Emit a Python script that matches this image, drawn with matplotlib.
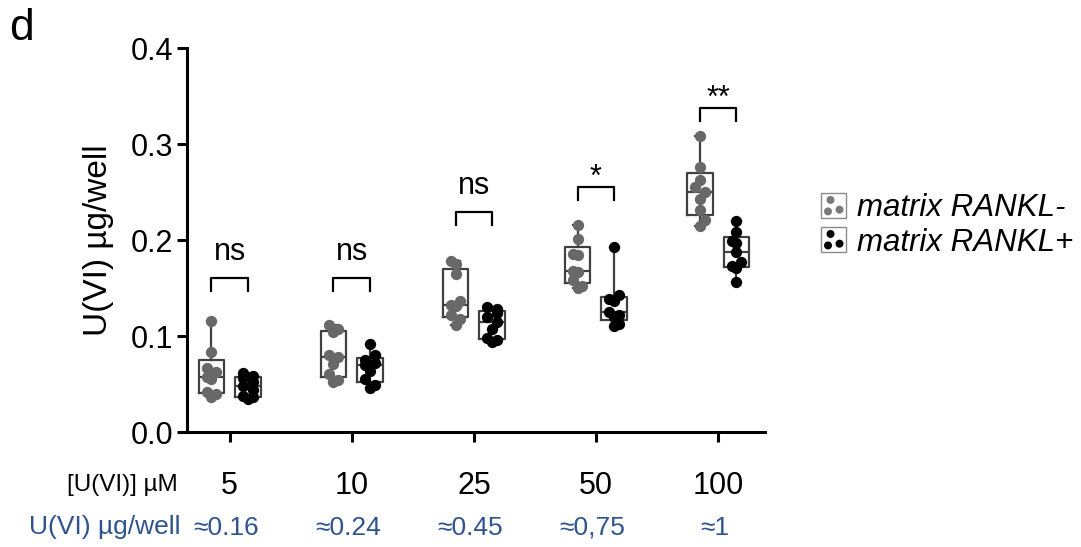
import matplotlib
matplotlib.use("Agg")
import matplotlib.pyplot as plt
import matplotlib.transforms as mtransforms
import numpy as np
from matplotlib.legend_handler import HandlerBase
from matplotlib.patches import Circle, Rectangle

plt.rcParams["font.family"] = ["Liberation Sans", "DejaVu Sans"]

# ------------------------------------------------------------------ data
conc_labels = ["5", "10", "25", "50", "100"]
ug_labels = ["≈0.16", "≈0.24", "≈0.45", "≈0,75", "≈1"]

rankl_neg = [
    [0.037, 0.040, 0.042, 0.055, 0.057, 0.063, 0.067, 0.083, 0.116],
    [0.052, 0.054, 0.060, 0.071, 0.078, 0.080, 0.104, 0.107, 0.111],
    [0.111, 0.118, 0.122, 0.131, 0.132, 0.136, 0.165, 0.175, 0.178],
    [0.150, 0.152, 0.158, 0.167, 0.168, 0.184, 0.185, 0.201, 0.216],
    [0.215, 0.221, 0.231, 0.243, 0.250, 0.255, 0.263, 0.276, 0.308],
]
rankl_pos = [
    [0.034, 0.036, 0.038, 0.044, 0.048, 0.052, 0.056, 0.058, 0.062],
    [0.046, 0.049, 0.055, 0.064, 0.070, 0.072, 0.075, 0.080, 0.092],
    [0.094, 0.096, 0.098, 0.107, 0.115, 0.120, 0.124, 0.128, 0.130],
    [0.110, 0.113, 0.120, 0.122, 0.125, 0.137, 0.139, 0.143, 0.193],
    [0.156, 0.171, 0.173, 0.177, 0.188, 0.197, 0.199, 0.208, 0.220],
]
sig_labels = ["ns", "ns", "ns", "*", "**"]
bracket_y = [0.160, 0.160, 0.229, 0.255, 0.3375]

GREY = "#686868"
BLACK = "#000000"
BOX = "#404040"
BLUE = "#2f5490"
OFFSET = 0.15
BOX_W = 0.21


def prism_stats(values):
    # Prism style quartiles (n+1 basis), whiskers min to max
    v = np.asarray(values)
    q1, med, q3 = np.percentile(v, [25, 50, 75], method="weibull")
    return {"med": med, "q1": q1, "q3": q3, "whislo": v.min(), "whishi": v.max(), "fliers": []}


def swarm(values, px_x=122.0, px_y=960.0, diam=8.0):
    # tiny beeswarm: place each dot at the first free slot near the centre,
    # dots may overlap a bit like in Prism
    order = np.argsort(values)
    placed = []
    offsets = np.zeros(len(values))
    step = diam * 0.6
    for k, i in enumerate(order):
        y = values[i] * px_y
        best = step if k % 2 else -step
        for s in [0, 1, -1]:
            x = s * step
            if all((x - px) ** 2 + (y - py) ** 2 >= diam ** 2 for px, py in placed):
                best = x
                break
        placed.append((best, y))
        offsets[i] = best / px_x
    return offsets


fig = plt.figure(figsize=(10.81, 5.47), dpi=100)
ax = fig.add_axes([0.173, 0.2102, 0.5347, 0.702])

pos = np.arange(len(conc_labels))
for series, shift, color in [(rankl_neg, -OFFSET, GREY), (rankl_pos, OFFSET, BLACK)]:
    stats = [prism_stats(v) for v in series]
    ax.bxp(stats, positions=pos + shift, widths=BOX_W, showfliers=False,
           capwidths=0.07,
           boxprops=dict(color=BOX, lw=1.6),
           whiskerprops=dict(color=BOX, lw=1.6),
           capprops=dict(color=BOX, lw=1.6),
           medianprops=dict(color=BOX, lw=1.6))
    for p, v in zip(pos, series):
        v = np.asarray(v)
        ax.scatter(p + shift + swarm(v), v, s=66, color=color, zorder=3, linewidths=0)

# significance brackets
leg = 0.0135
for p, lab, yb in zip(pos, sig_labels, bracket_y):
    xl, xr = p - OFFSET, p + OFFSET
    ax.plot([xl, xl, xr, xr], [yb - leg, yb, yb, yb - leg], color="black", lw=1.6)
    gap = 0.019 if lab == "ns" else 0.001
    ax.text(p, yb + gap, lab, ha="center", va="baseline", fontsize=22)

ax.set_xlim(-0.35, 4.385)
ax.set_ylim(0, 0.4)
ax.set_yticks([0, 0.1, 0.2, 0.3, 0.4])
ax.set_yticklabels(["0.0", "0.1", "0.2", "0.3", "0.4"])
ax.set_xticks(pos)
ax.set_xticklabels(conc_labels)
ax.tick_params(axis="both", width=2.2, length=7, labelsize=22)
ax.tick_params(axis="x", pad=21)
ax.tick_params(axis="y", pad=3)
for s in ["top", "right"]:
    ax.spines[s].set_visible(False)
for s in ["left", "bottom"]:
    ax.spines[s].set_linewidth(2.2)
ax.set_ylabel("U(VI) µg/well", fontsize=24, labelpad=12)

# second row of x labels
trans = mtransforms.blended_transform_factory(ax.transData, fig.transFigure)
for p, lab in zip(pos, ug_labels):
    ax.text(p - 0.03, 0.035, lab, transform=trans, ha="center", va="center",
            fontsize=19, color=BLUE)
fig.text(0.1647, 0.1133, "[U(VI)] µM", ha="right", va="center", fontsize=17.5)
fig.text(0.1674, 0.037, "U(VI) µg/well", ha="right", va="center", fontsize=19, color=BLUE)
fig.text(0.008, 0.985, "d", ha="left", va="top", fontsize=32)


class DotBoxHandler(HandlerBase):
    def __init__(self, color):
        super().__init__()
        self.color = color

    def create_artists(self, legend, orig_handle, xdescent, ydescent, width, height, fontsize, trans):
        x0, y0 = -xdescent, -ydescent
        box = Rectangle((x0, y0), width, height, facecolor="white",
                        edgecolor="#8a8a8a", lw=1.0, transform=trans)
        r = width * 0.16
        dots = [Circle((x0 + fx * width, y0 + fy * height), r, facecolor=self.color,
                       edgecolor="none", transform=trans)
                for fx, fy in [(0.38, 0.73), (0.28, 0.27), (0.74, 0.34)]]
        return [box] + dots


h_neg, h_pos = object(), object()
fig.legend([h_neg, h_pos], ["matrix RANKL-", "matrix RANKL+"],
           handler_map={h_neg: DotBoxHandler("#7a7a7a"), h_pos: DotBoxHandler("black")},
           loc="center left", bbox_to_anchor=(0.7595, 0.588), frameon=False,
           borderpad=0, borderaxespad=0, handlelength=0.8, handleheight=0.85,
           handletextpad=0.35, labelspacing=0.12,
           prop=dict(size=22.5, style="italic"))

fig.savefig("out.png", dpi=100)
